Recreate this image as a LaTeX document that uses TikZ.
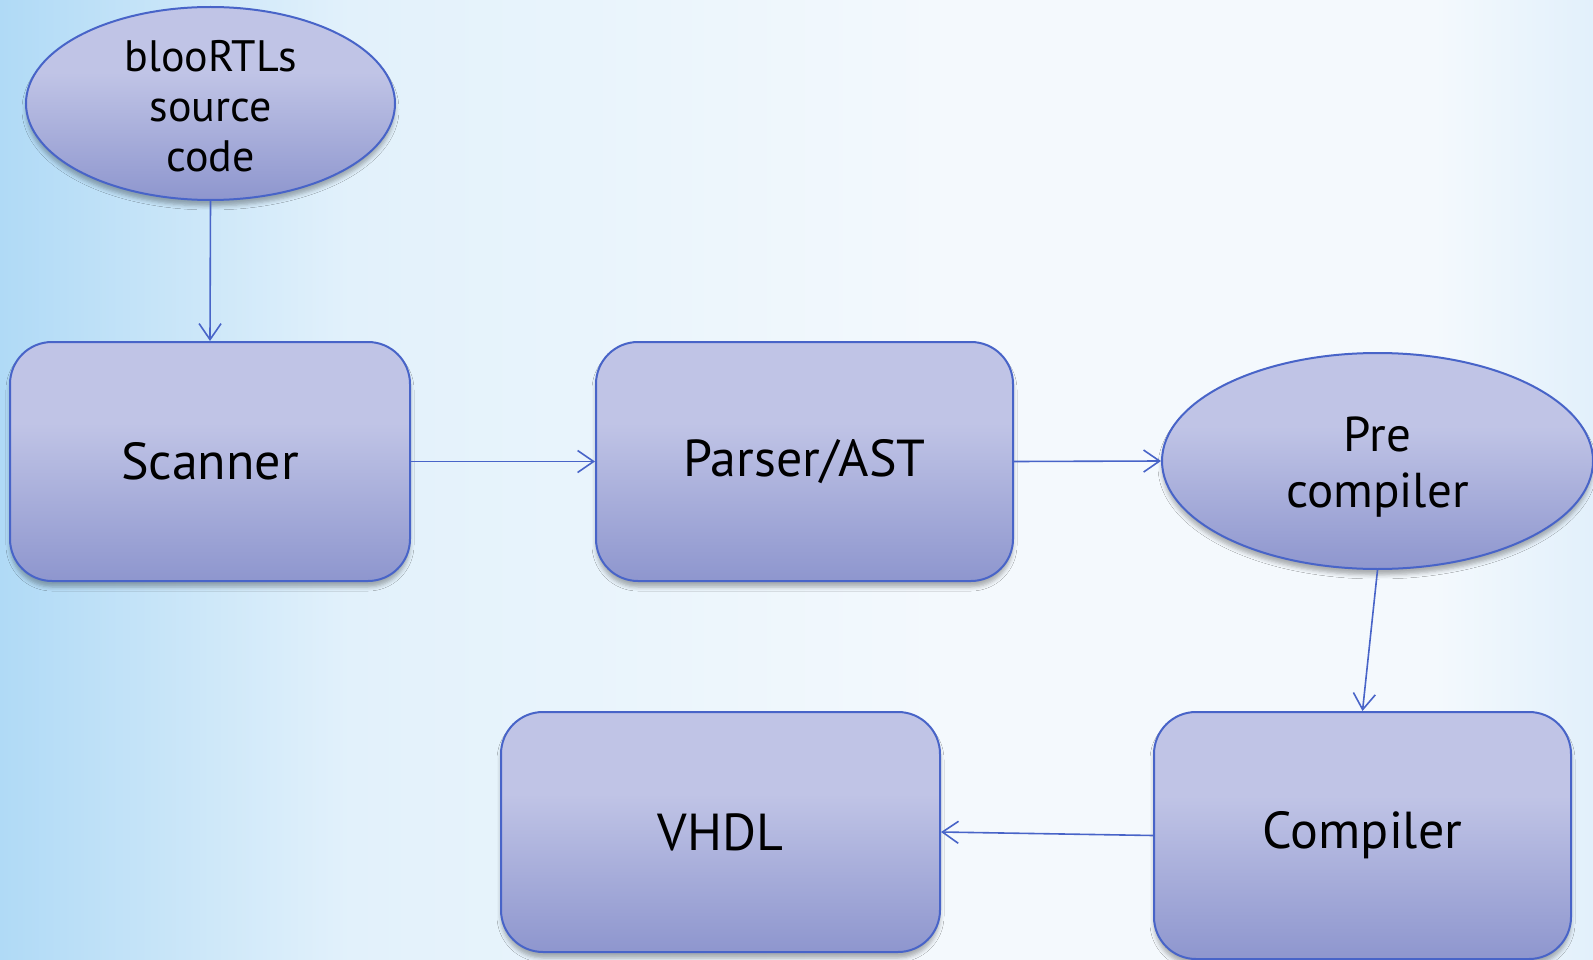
\documentclass[tikz,border=0pt]{standalone}
\usepackage{fontspec}
\setmainfont{PT Sans}
\usetikzlibrary{arrows.meta,shapes.geometric,shadows.blur}
\definecolor{edgec}{RGB}{72,100,200}
\definecolor{topc}{RGB}{192,196,230}
\definecolor{botc}{RGB}{142,150,206}
\definecolor{bgl}{RGB}{176,218,246}
\definecolor{bgm}{RGB}{226,241,251}
\definecolor{bgw}{RGB}{244,249,253}
\definecolor{bgr}{RGB}{226,240,251}
\pgfdeclareverticalshading{nodeshade}{100bp}{color(0bp)=(botc); color(25bp)=(botc); color(58bp)=(topc); color(100bp)=(topc)}
\pgfdeclarehorizontalshading{bgshade}{100bp}{color(0bp)=(bgl); color(25bp)=(bgl); color(36bp)=(bgm); color(55bp)=(bgw); color(70bp)=(bgw); color(75bp)=(bgr); color(100bp)=(bgr)}
\tikzset{
  shapebase/.style={draw=edgec, line width=2pt, shading=nodeshade, inner sep=0pt,
    blur shadow={shadow xshift=0pt, shadow yshift=-6pt, shadow opacity=30, shadow blur radius=4pt}},
  box/.style={shapebase, rectangle, rounded corners=42pt, font=\fontsize{52}{52}\selectfont},
  oval/.style={shapebase, ellipse},
  ovaltext/.style={align=center, inner sep=0pt},
  flow/.style={draw=edgec, line width=1.6pt, -{Straight Barb[length=16pt,width=22pt,line width=1.6pt]}}
}
\begin{document}
\begin{tikzpicture}[x=1pt,y=-1pt]
\useasboundingbox (0,0) rectangle (1593,960);
\shade[shading=bgshade] (0,0) rectangle (1593,960);

\node[oval, minimum width=369pt, minimum height=193pt] (src) at (210.5,103.5) {};
\node[ovaltext, font=\fontsize{44}{50}\selectfont] (srct) at (210.5,106) {blooRTLs\\source\\code};

\node[box, minimum width=400pt, minimum height=239pt] (scan) at (210,461.5) {Scanner};
\node[box, minimum width=417pt, minimum height=239pt] (pars) at (804.5,461.5) {Parser/AST};

\node[oval, minimum width=431pt, minimum height=216pt] (pre) at (1377.5,461) {};
\node[ovaltext, font=\fontsize{49}{56}\selectfont] (pret) at (1377.5,467) {Pre\\compiler};

\node[box, minimum width=417pt, minimum height=247pt] (comp) at (1362.5,835.5) {Compiler};
\node[box, minimum width=439pt, minimum height=240pt] (vhdl) at (720.5,832) {VHDL};

\draw[flow] (src.south) -- (scan.north);
\draw[flow] (scan.east) -- (pars.west);
\draw[flow] (pars.east) -- (pre.west);
\draw[flow] (pre.south) -- (comp.north);
\draw[flow] (comp.west) -- (vhdl.east);
\end{tikzpicture}
\end{document}
